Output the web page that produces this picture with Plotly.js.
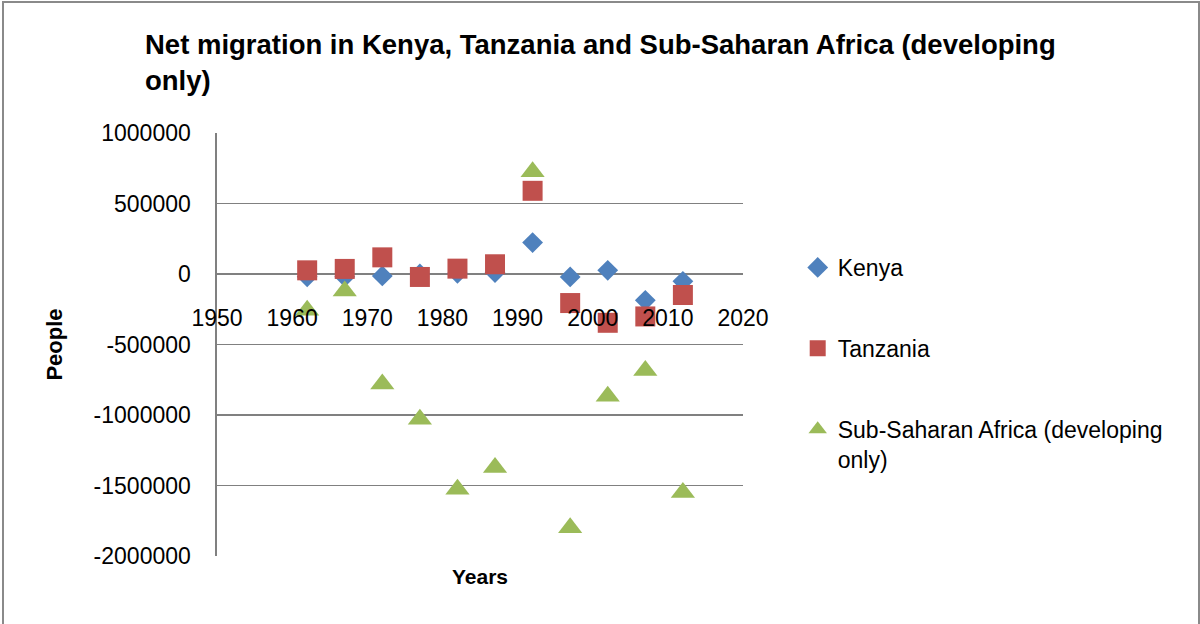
<!DOCTYPE html>
<html>
<head>
<meta charset="utf-8">
<script src="https://cdn.plot.ly/plotly-3.0.1.min.js"></script>
<style>
  html, body { margin: 0; padding: 0; background: #fff; }
  #wrap { position: relative; width: 1200px; height: 624px; }
  #chart { width: 1200px; height: 624px; }
  #frame { position: absolute; left: 2px; top: 1px; width: 1194px; height: 640px;
           border: 2px solid #8a8a8a; pointer-events: none; }
</style>
</head>
<body>
<div id="wrap"><div id="chart"></div><div id="frame"></div></div>
<script>
const years = [1962, 1967, 1972, 1977, 1982, 1987, 1992, 1997, 2002, 2007, 2012];
const kenya = [-20000, -20000, -14000, 0, 5000, 10000, 223000, -21000, 26000, -187000, -52000];
const tanzania = [26000, 36000, 118000, -21000, 38000, 69000, 590000, -206000, -346000, -301000, -149000];
const subSaharan = [-257000, -121000, -780000, -1031000, -1526000, -1372000, 725000, -1799000, -867000, -685000, -1550000];

const seriesNames = ['Kenya', 'Tanzania', 'Sub-Saharan Africa (developing<br>only)'];
const xTickVals = [1950, 1960, 1970, 1980, 1990, 2000, 2010, 2020];
const xTickText = ['1950', '1960', '1970', '1980', '1990', '2000', '2010', '2020'];
const yTickVals = [-2000000, -1500000, -1000000, -500000, 0, 500000, 1000000];
const yTickText = ['-2000000', '-1500000', '-1000000', '-500000', '0', '500000', '1000000'];

const FONT = 'Liberation Sans, Arial, sans-serif';

const traces = [
  { x: years, y: kenya, name: seriesNames[0], type: 'scatter', mode: 'markers',
    legendgroup: 'a', marker: { symbol: 'diamond', size: 16, color: '#4F81BD' } },
  { x: years, y: tanzania, name: seriesNames[1], type: 'scatter', mode: 'markers',
    legendgroup: 'b', marker: { symbol: 'square', size: 20, color: '#C0504D' } },
  { x: years, y: subSaharan, name: seriesNames[2], type: 'scatter', mode: 'markers',
    legendgroup: 'c', marker: { symbol: 'triangle-up', size: 21, color: '#9BBB59' } },
  { x: [], y: [], xaxis: 'x2', yaxis: 'y', type: 'scatter', mode: 'markers',
    showlegend: false, hoverinfo: 'skip' }
];

const layout = {
  width: 1200, height: 624,
  paper_bgcolor: '#fff', plot_bgcolor: '#fff',
  margin: { l: 217, r: 457, t: 133, b: 68, pad: 0 },
  font: { family: FONT, color: '#000', size: 23 },
  title: {
    text: 'Net migration in Kenya, Tanzania and Sub-Saharan Africa (developing<br>only)',
    font: { family: FONT, size: 27.5, weight: 'bold', color: '#000' },
    xref: 'container', x: 145 / 1200, xanchor: 'left',
    yref: 'container', y: 1 - 54 / 624, yanchor: 'top'
  },
  xaxis: {
    range: [1950, 2020], showgrid: false, zeroline: false, showline: false,
    showticklabels: false, ticks: '',
    title: { text: 'Years', font: { family: FONT, size: 21, weight: 'bold' }, standoff: 13 }
  },
  xaxis2: {
    overlaying: 'x', matches: 'x', anchor: 'free', position: 0.668,
    range: [1950, 2020], showgrid: false, zeroline: false, showline: false, ticks: '',
    tickmode: 'array', tickvals: xTickVals, ticktext: xTickText,
    tickfont: { family: FONT, size: 23 }, ticklabelstandoff: 29
  },
  yaxis: {
    range: [-2000000, 1000000], tickmode: 'array', tickvals: yTickVals, ticktext: yTickText,
    showgrid: true, gridcolor: '#808080', gridwidth: 1.6, zeroline: false,
    showline: true, linecolor: '#808080', linewidth: 1.6, ticks: '',
    tickfont: { family: FONT, size: 23 }, ticklabelstandoff: 20,
    title: { text: 'People', font: { family: FONT, size: 22, weight: 'bold' }, standoff: 25 }
  },
  legend: {
    x: 1.104, xanchor: 'left', y: (556 - 246) / 423, yanchor: 'top',
    font: { family: FONT, size: 23 }, traceorder: 'grouped', tracegroupgap: 48,
    valign: 'top', bgcolor: 'rgba(0,0,0,0)', itemwidth: 30
  },
  showlegend: true
};

Plotly.newPlot('chart', traces, layout, { displayModeBar: false, staticPlot: true });
</script>
</body>
</html>
